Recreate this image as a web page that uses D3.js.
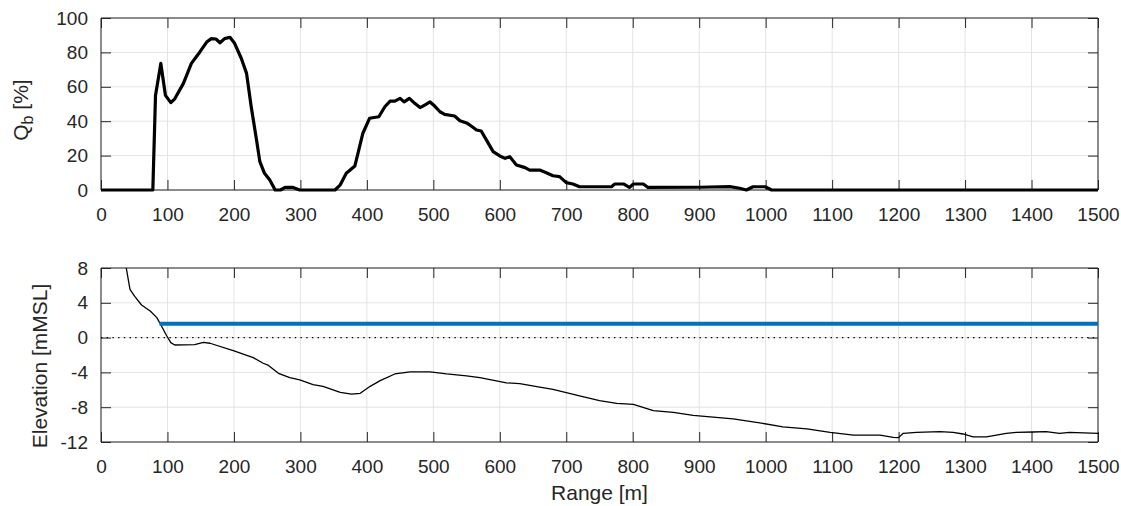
<!DOCTYPE html>
<html>
<head>
<meta charset="utf-8">
<script src="https://cdn.jsdelivr.net/npm/d3@7"></script>
<style>
  html, body { margin: 0; padding: 0; background: #fff; }
  svg { display: block; font-family: "Liberation Sans", Arial, Helvetica, sans-serif; }
</style>
</head>
<body>
<svg id="chart" width="1121" height="506"></svg>
<script>
// ---- data ----
const xTicks = [0,100,200,300,400,500,600,700,800,900,1000,1100,1200,1300,1400,1500];
const qbTicks = [0,20,40,60,80,100];
const elevTicks = [-12,-8,-4,0,4,8];

const qbX = [0,78,82,90,97,105,111,124,136,149,159,166,173,179,186,194,201,211,219,226,234,239,246,254,262,270,277,289,299,352,360,369,382,394,404,418,427,435,442,450,456,464,472,480,487,495,502,510,517,532,540,550,557,565,572,580,590,600,608,615,625,638,645,660,670,680,690,700,710,720,768,773,786,795,801,816,823,901,946,961,971,981,999,1009,1500];
const qbY = [0,0,55,73.6,55,50.8,53,62,73.6,80.4,86,88,87.8,85.6,88,88.8,85.3,76.6,67.8,48.4,29,16.5,9.7,5.8,0,0,1.5,1.5,0,0,3,9.7,14,33,41.7,42.6,48.4,51.7,51.7,53.3,51.2,53.3,50.4,47.9,49.4,51.2,48.8,45.5,44,43,40.3,39,37.2,34.9,34.3,29,22.3,19.8,18.4,19.4,14.5,13,11.6,11.6,10,8.3,7.8,4.3,3.5,1.9,1.9,3.5,3.5,1.5,3.5,3.5,1.5,1.6,2.0,1,0,1.9,1.9,0,0];

const elevX = [30,38,43.6,51,61,74,84,91,99,105,111,141,154,164,199,229,244,252,267,284,299,319,334,360,377,390,405,420,442,465,495,520,550,570,610,630,660,680,700,720,750,776,801,831,861,891,921,951,991,1026,1062,1097,1132,1172,1192,1200,1207,1227,1262,1282,1297,1312,1332,1347,1362,1377,1402,1422,1442,1457,1500];
const elevY = [11.5,8,5.55,4.7,3.75,3.06,2.3,1.33,0.18,-0.58,-0.85,-0.8,-0.55,-0.65,-1.5,-2.3,-2.95,-3.2,-4.1,-4.6,-4.87,-5.4,-5.6,-6.3,-6.5,-6.4,-5.6,-4.95,-4.18,-3.95,-3.95,-4.18,-4.4,-4.6,-5.2,-5.3,-5.7,-5.95,-6.33,-6.7,-7.25,-7.55,-7.67,-8.4,-8.6,-8.93,-9.15,-9.35,-9.8,-10.25,-10.5,-10.9,-11.2,-11.2,-11.46,-11.5,-11.0,-10.9,-10.8,-10.9,-11.08,-11.4,-11.4,-11.2,-11.0,-10.9,-10.85,-10.8,-11.0,-10.9,-11.0];

const waterX = [88, 1500];
const waterLevel = [1.6, 1.6];
const zeroX = [0, 1500];
const zeroY = [0, 0];

// ---- layout ----
const svg = d3.select("#chart");
const L = 101, R = 1098;
const axColor = "#262626", gridColor = "#e3e3e3";
const tickFont = 19, labelFont = 21, tickLen = 10;
const fmt = d => String(d);

const x = d3.scaleLinear().domain([0,1500]).range([L,R]);

function panel(top, bottom, yDomain, yTickVals, id) {
  const y = d3.scaleLinear().domain(yDomain).range([bottom, top]);
  const g = svg.append("g");
  // grid
  g.selectAll(".gx").data(xTicks).join("line")
    .attr("x1", d => x(d)).attr("x2", d => x(d))
    .attr("y1", top).attr("y2", bottom)
    .attr("stroke", gridColor).attr("stroke-width", 1);
  g.selectAll(".gy").data(yTickVals).join("line")
    .attr("x1", L).attr("x2", R)
    .attr("y1", d => y(d)).attr("y2", d => y(d))
    .attr("stroke", gridColor).attr("stroke-width", 1);
  // clip
  svg.append("clipPath").attr("id", id).append("rect")
    .attr("x", L).attr("y", top).attr("width", R-L).attr("height", bottom-top);
  // axes using d3 axis
  const xb = d3.axisBottom(x).tickValues(xTicks).tickSize(-tickLen).tickPadding(tickLen + 8).tickFormat(fmt);
  const xt = d3.axisTop(x).tickValues(xTicks).tickSize(-tickLen).tickFormat("");
  const yl = d3.axisLeft(y).tickValues(yTickVals).tickSize(-tickLen).tickPadding(tickLen + 3).tickFormat(fmt);
  const yr = d3.axisRight(y).tickValues(yTickVals).tickSize(-tickLen).tickFormat("");
  const axes = svg.append("g").attr("class", "axes");
  const styleAx = sel => {
    sel.selectAll("path.domain").attr("stroke", axColor).attr("stroke-width", 1);
    sel.selectAll(".tick line").attr("stroke", axColor).attr("stroke-width", 1);
    sel.selectAll(".tick text").attr("fill", axColor).style("font-size", tickFont + "px")
      .style("font-family", '"Liberation Sans", Arial, Helvetica, sans-serif');
  };
  axes.append("g").attr("transform", `translate(0,${bottom})`).call(xb).call(g2 => g2.select(".domain").attr("d", `M${L},0H${R}`)).call(styleAx);
  axes.append("g").attr("transform", `translate(0,${top})`).call(xt).call(g2 => g2.select(".domain").attr("d", `M${L},0H${R}`)).call(styleAx);
  axes.append("g").attr("transform", `translate(${L},0)`).call(yl).call(g2 => g2.select(".domain").attr("d", `M0,${top}V${bottom}`)).call(styleAx);
  axes.append("g").attr("transform", `translate(${R},0)`).call(yr).call(g2 => g2.select(".domain").attr("d", `M0,${top}V${bottom}`)).call(styleAx);
  return {y, g, axes};
}

// top panel
const p1 = panel(18, 190, [0,100], qbTicks, "clip1");
const qbLine = d3.line().x(d => x(d[0])).y(d => p1.y(d[1]));
svg.append("path")
  .datum(qbX.map((v,i) => [v, qbY[i]]))
  .attr("d", qbLine)
  .attr("fill", "none").attr("stroke", "#000").attr("stroke-width", 3.2)
  .attr("stroke-linejoin", "round").attr("stroke-linecap", "butt");

// bottom panel
const p2 = panel(268, 442, [-12,8], elevTicks, "clip2");
const elLine = d3.line().x(d => x(d[0])).y(d => p2.y(d[1]));
const clipG = svg.append("g").attr("clip-path", "url(#clip2)");
clipG.append("path")
  .datum(zeroX.map((v,i) => [v, zeroY[i]]))
  .attr("d", elLine)
  .attr("fill", "none").attr("stroke", "#000").attr("stroke-width", 1.2)
  .attr("stroke-dasharray", "1.4 4.3");
clipG.append("path")
  .datum(elevX.map((v,i) => [v, elevY[i]]))
  .attr("d", elLine)
  .attr("fill", "none").attr("stroke", "#000").attr("stroke-width", 1.3)
  .attr("stroke-linejoin", "round");
clipG.append("path")
  .datum(waterX.map((v,i) => [v, waterLevel[i]]))
  .attr("d", elLine)
  .attr("fill", "none").attr("stroke", "#0072BD").attr("stroke-width", 4);

// labels
const lab1 = svg.append("text")
  .attr("transform", "translate(28,110) rotate(-90)")
  .attr("text-anchor", "middle")
  .attr("fill", axColor)
  .style("font-size", labelFont + "px");
lab1.append("tspan").text("Q");
lab1.append("tspan").text("b").attr("dy", 5).style("font-size", "16px");
lab1.append("tspan").text(" [%]").attr("dy", -5);

svg.append("text")
  .attr("transform", "translate(47,366) rotate(-90)")
  .attr("text-anchor", "middle")
  .attr("fill", axColor)
  .style("font-size", labelFont + "px")
  .text("Elevation [mMSL]");

svg.append("text")
  .attr("x", (L+R)/2).attr("y", 500)
  .attr("text-anchor", "middle")
  .attr("fill", axColor)
  .style("font-size", labelFont + "px")
  .text("Range [m]");
</script>
</body>
</html>
